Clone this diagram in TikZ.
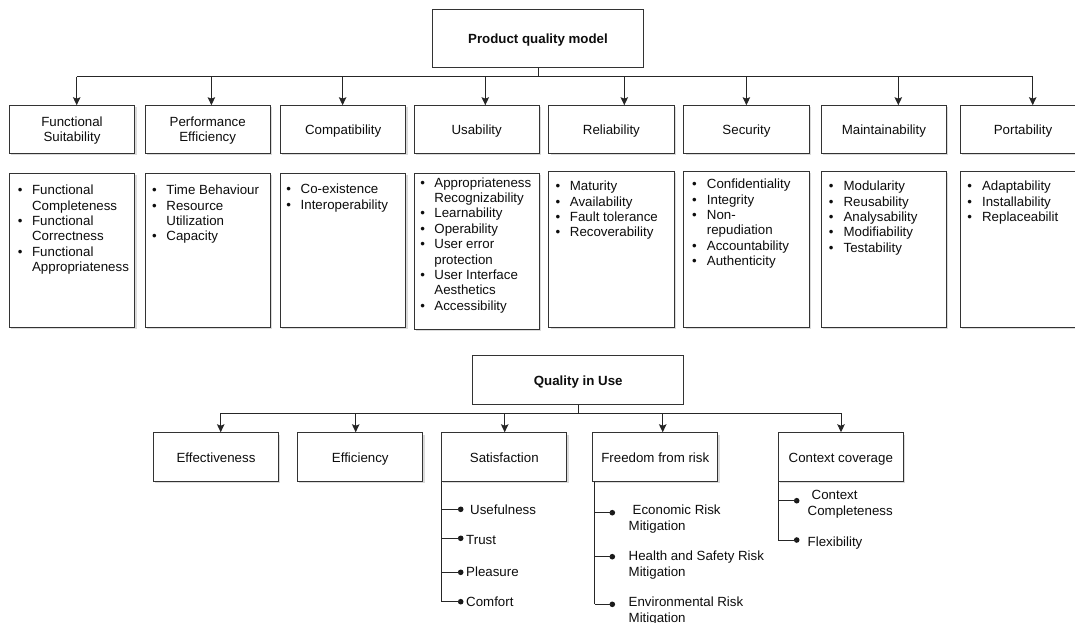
\documentclass[tikz,border=0pt]{standalone}
\usepackage{fontspec}
\setmainfont{Liberation Sans}
\usetikzlibrary{arrows.meta,shadows}

% one bulleted list: prefix, bullet x, text x, centre of first line, flag/text pairs
\newcommand\bulletlist[5]{%
  \foreach \f/\t [count=\i from 0] in {#5}{%
    \node[itm] (#1-\i) at (#3-0.8, #4+4.75+\i*15.4) {\t};
    \ifnum\f=1 \node[bul] (#1-b\i) at (#2-2.4, #4+4.75+\i*15.4) {\textbullet};\fi
  }}
% a framed box with its caption set slightly low: style, name, x, y, caption
\newcommand\capbox[5]{%
  \node[#1] (#2) at (#3,#4) {};
  \node[captext] (#2-t) at (#3,#4+2.2) {#5};}

\begin{document}
\begin{tikzpicture}[x=1pt,y=-1pt,
  every node/.style={font=\fontsize{13.3}{15.33}\selectfont, text=black!95},
  plain/.style={draw=black!80, line width=1pt, fill=white, inner sep=0},
  box/.style={plain, drop shadow={shadow xshift=1.8pt, shadow yshift=-1.8pt, fill=black!28}},
  rootbox/.style={plain, minimum width=211.5},
  hdr/.style={box, minimum width=125.4, minimum height=47.6},
  cat/.style={box, minimum width=125.3, minimum height=48.3},
  lst/.style={box, minimum width=125.4},
  captext/.style={inner sep=0, align=center, execute at begin node=\strut, execute at end node=\strut},
  boldtext/.style={captext, font=\fontsize{13.3}{15.33}\selectfont\bfseries},
  itm/.style={anchor=base west, inner sep=0},
  bul/.style={anchor=base west, inner sep=0},
  dot/.style={circle, fill=black!90, inner sep=0, minimum size=5.6},
  arr/.style={draw=black!85, line width=0.9pt, -{Stealth[length=8pt,width=7.5pt,inset=1.5pt]}},
  conn/.style={draw=black!85, line width=0.9pt}]
\useasboundingbox (0,0) rectangle (1075,623);
\clip (0,0) rectangle (1075,623);
\fill[white] (0,0) rectangle (1075,623);

% ---------------- product quality model ----------------
\node[rootbox, minimum height=57.7] (root) at (538,38.2) {};
\node[boldtext] (root-t) at (538,40.9) {Product quality model};

\capbox{hdr}{h1}{72.0}{129.5}{Functional\\Suitability}
\capbox{hdr}{h2}{207.7}{129.5}{Performance\\Efficiency}
\capbox{hdr}{h3}{343.2}{129.5}{Compatibility}
\capbox{hdr}{h4}{476.7}{129.5}{Usability}
\capbox{hdr}{h5}{611.4}{129.5}{Reliability}
\capbox{hdr}{h6}{746.5}{129.5}{Security}
\capbox{hdr}{h7}{883.9}{129.5}{Maintainability}
\capbox{hdr}{h8}{1023.0}{129.5}{Portability}

\coordinate (b1) at (76.7,76.7);
\coordinate (b2) at (211.4,76.7);
\coordinate (b3) at (342.6,76.7);
\coordinate (b4) at (485.3,76.7);
\coordinate (b5) at (624.3,76.7);
\coordinate (b6) at (746.4,76.7);
\coordinate (b7) at (898.3,76.7);
\coordinate (b8) at (1032.7,76.7);
\draw[conn] (root.south) -- (root.south |- b1);
\draw[conn] (b1) -- (b8);
\foreach \k in {1,...,8} \draw[arr] (b\k) -- (b\k |- h\k.north);

% boxes holding the sub-characteristics
\node[lst, minimum height=154]   (l1) at (72.0,250)    {};
\node[lst, minimum height=154]   (l2) at (207.7,250)   {};
\node[lst, minimum height=154]   (l3) at (343.2,250)   {};
\node[lst, minimum height=156.3] (l4) at (476.7,251.2) {};
\node[lst, minimum height=155.7] (l5) at (611.4,249.2) {};
\node[lst, minimum height=155.7] (l6) at (746.5,249.2) {};
\node[lst, minimum height=155.7] (l7) at (883.9,249.2) {};
\node[lst, minimum height=155.7] (l8) at (1023.0,249.2) {};

\bulletlist{fs}{20}{32.7}{190}{1/Functional,0/Completeness,1/Functional,0/Correctness,1/Functional,0/Appropriateness}
\bulletlist{pe}{154.3}{167}{190}{1/Time Behaviour,1/Resource,0/Utilization,1/Capacity}
\bulletlist{co}{288.6}{301.3}{189}{1/Co-existence,1/Interoperability}
\bulletlist{us}{422.5}{435}{182.3}{1/Appropriateness,0/Recognizability,1/Learnability,1/Operability,1/User error,0/protection,1/User Interface,0/Aesthetics,1/Accessibility}
\bulletlist{re}{557.7}{570.5}{186}{1/Maturity,1/Availability,1/Fault tolerance,1/Recoverability}
\bulletlist{se}{694.4}{707.5}{184}{1/Confidentiality,1/Integrity,1/Non-,0/repudiation,1/Accountability,1/Authenticity}
\bulletlist{ma}{831}{844.2}{186}{1/Modularity,1/Reusability,1/Analysability,1/Modifiability,1/Testability}
\bulletlist{po}{969.6}{982.7}{186}{1/Adaptability,1/Installability,1/Replaceabilit}

% ---------------- quality in use ----------------
\node[rootbox, minimum height=48.3] (qiu) at (578.2,379.9) {};
\node[boldtext] (qiu-t) at (578.2,382.3) {Quality in Use};

\capbox{cat}{eff}{216.0}{456.9}{Effectiveness}
\capbox{cat}{effi}{360.3}{456.9}{Efficiency}
\capbox{cat}{sat}{504.3}{456.9}{Satisfaction}
\capbox{cat}{fr}{655.3}{456.9}{Freedom from risk}
\capbox{cat}{cc}{840.8}{456.9}{Context coverage}

\coordinate (c1) at (220.7,413.3);
\coordinate (c2) at (355.7,413.3);
\coordinate (c3) at (504.7,413.3);
\coordinate (c4) at (662.7,413.3);
\coordinate (c5) at (841.0,413.3);
\draw[conn] (qiu.south) -- (qiu.south |- c1);
\draw[conn] (c1) -- (c5);
\draw[arr] (c1) -- (c1 |- eff.north);
\draw[arr] (c2) -- (c2 |- effi.north);
\draw[arr] (c3) -- (c3 |- sat.north);
\draw[arr] (c4) -- (c4 |- fr.north);
\draw[arr] (c5) -- (c5 |- cc.north);

% satisfaction branches
\node[dot] (sd1) at (460.7,509.3) {};
\node[dot] (sd2) at (460.7,538.3) {};
\node[dot] (sd3) at (460.7,572.3) {};
\node[dot] (sd4) at (460.7,601.7) {};
\path (sat.south west) ++(0.6,0) coordinate (sv);
\draw[conn] (sv) -- (sv |- sd4);
\foreach \k in {1,...,4} \draw[conn] (sv |- sd\k) -- (sd\k.center);
\node[itm] (st1) at (470.0,514.0) {Usefulness};
\node[itm] (st2) at (466.0,544.7) {Trust};
\node[itm] (st3) at (466.0,576.4) {Pleasure};
\node[itm] (st4) at (466.0,606.4) {Comfort};

% freedom from risk branches
\node[dot] (fd1) at (612.3,512.7) {};
\node[dot] (fd2) at (612.3,556.7) {};
\node[dot] (fd3) at (612.3,604.3) {};
\path (fr.south west) ++(2.5,0) coordinate (fv);
\draw[conn] (fv) -- (fv |- fd3);
\foreach \k in {1,...,3} \draw[conn] (fv |- fd\k) -- (fd\k.center);
\node[itm] (ft1) at (632.5,514.0) {Economic Risk};
\node[itm] (ft2) at (628.5,530.7) {Mitigation};
\node[itm] (ft3) at (628.5,560.7) {Health and Safety Risk};
\node[itm] (ft4) at (628.5,576.4) {Mitigation};
\node[itm] (ft5) at (628.5,606.4) {Environmental Risk};
\node[itm] (ft6) at (628.5,622.0) {Mitigation};

% context coverage branches
\node[dot] (cd1) at (796.7,500.7) {};
\node[dot] (cd2) at (796.7,540.0) {};
\path (cc.south west) ++(0.6,0) coordinate (cv);
\draw[conn] (cv) -- (cv |- cd2);
\foreach \k in {1,2} \draw[conn] (cv |- cd\k) -- (cd\k.center);
\node[itm] (ct1) at (811.5,499.7) {Context};
\node[itm] (ct2) at (807.5,515.4) {Completeness};
\node[itm] (ct3) at (807.5,546.4) {Flexibility};
\end{tikzpicture}
\end{document}
